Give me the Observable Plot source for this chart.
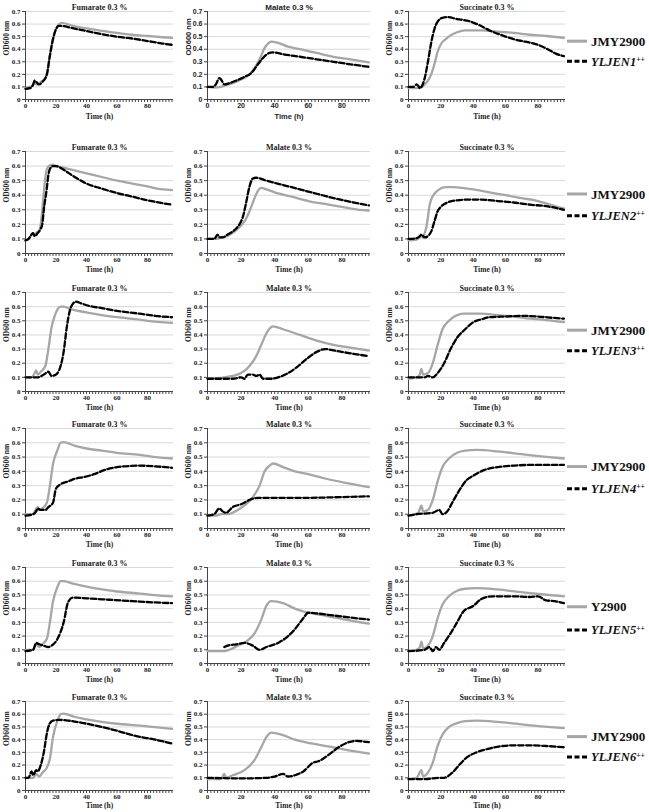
<!DOCTYPE html>
<html><head><meta charset="utf-8">
<script src="https://cdn.jsdelivr.net/npm/d3@7"></script>
<script src="https://cdn.jsdelivr.net/npm/@observablehq/plot@0.6"></script>
<style>
html,body{margin:0;padding:0;background:#fff;}
#fig{position:relative;width:649px;height:812px;overflow:hidden;}
.panel{position:absolute;}
.panel svg{overflow:visible;}
#legend{position:absolute;left:0;top:0;}
</style></head><body><div id="fig"></div>
<script>
// ---- labels ----
const carbonTitles = ["Fumarate 0.3 %", "Malate 0.3 %", "Succinate 0.3 %"];
const wtNames = ["JMY2900", "JMY2900", "JMY2900", "JMY2900", "Y2900", "JMY2900"];
const mutNames = ["YLJEN1", "YLJEN2", "YLJEN3", "YLJEN4", "YLJEN5", "YLJEN6"];
const xTicks = [0, 20, 40, 60, 80];
const yTicks = [0, 0.1, 0.2, 0.3, 0.4, 0.5, 0.6, 0.7];
const minorTicks = d3.range(0, 97, 2);

// ---- data: [time (h), OD600] ----
const wt1Fum = [[0,.09],[3,.1],[5,.11],[6,.14],[7,.12],[8,.12],[10,.14],[13,.17],[14,.2],[16,.35],[18,.48],[20,.56],[22,.6],[24,.61],[30,.59],[40,.565],[50,.545],[60,.53],[70,.515],[80,.505],[90,.495],[96,.49]];
const jen1Fum = [[0,.085],[3,.09],[5,.12],[6,.15],[7,.14],[9,.12],[11,.14],[13,.17],[14,.2],[16,.35],[18,.48],[20,.56],[22,.585],[24,.585],[30,.57],[40,.545],[50,.52],[60,.5],[70,.485],[80,.465],[90,.445],[96,.435]];
const wt1Mal = [[0,.1],[4,.095],[8,.1],[10,.11],[15,.13],[20,.16],[25,.2],[28,.25],[31,.32],[34,.41],[36,.445],[38,.46],[42,.45],[48,.42],[55,.4],[65,.37],[75,.34],[85,.32],[96,.295]];
const jen1Mal = [[0,.1],[3,.1],[5,.12],[7,.17],[8,.16],[10,.12],[13,.13],[17,.15],[22,.18],[26,.21],[30,.28],[33,.33],[36,.365],[39,.375],[45,.36],[55,.34],[65,.32],[75,.3],[85,.28],[96,.26]];
const wt1Suc = [[0,.09],[5,.09],[8,.1],[10,.12],[12,.15],[14,.2],[16,.28],[18,.38],[20,.44],[23,.48],[26,.51],[30,.535],[35,.55],[45,.55],[55,.54],[65,.53],[75,.515],[85,.505],[96,.49]];
const jen1Suc = [[0,.1],[3,.1],[5,.12],[6,.11],[7,.09],[8,.1],[10,.17],[12,.3],[14,.45],[16,.56],[18,.62],[21,.65],[24,.655],[30,.64],[37,.625],[44,.59],[50,.55],[58,.51],[65,.48],[72,.46],[80,.435],[86,.4],[91,.365],[96,.345]];

const wt2Fum = [[0,.09],[2,.1],[4,.13],[5,.14],[6,.12],[7,.14],[9,.16],[10,.2],[11,.3],[12,.42],[13,.52],[14,.58],[16,.605],[18,.61],[20,.6],[25,.59],[30,.575],[40,.55],[50,.525],[60,.5],[70,.48],[80,.46],[90,.44],[96,.435]];
const jen2Fum = [[0,.09],[2,.1],[4,.13],[5,.14],[6,.12],[8,.14],[10,.17],[11,.2],[12,.3],[14,.45],[15,.54],[16,.58],[18,.6],[20,.6],[25,.575],[30,.54],[40,.48],[50,.445],[60,.415],[70,.39],[80,.365],[90,.345],[96,.335]];
const wt2Mal = [[0,.1],[5,.1],[8,.11],[12,.12],[16,.15],[19,.18],[22,.22],[25,.29],[28,.38],[30,.43],[32,.45],[35,.44],[40,.42],[50,.39],[60,.36],[70,.34],[80,.32],[90,.3],[96,.295]];
const jen2Mal = [[0,.1],[4,.1],[6,.13],[7,.11],[9,.11],[12,.13],[16,.16],[19,.2],[21,.25],[23,.35],[25,.46],[27,.515],[29,.52],[35,.5],[45,.47],[55,.44],[65,.41],[75,.38],[85,.355],[96,.33]];
const wt2Suc = [[0,.09],[5,.095],[7,.11],[8,.12],[9,.11],[10,.14],[11,.18],[12,.25],[13,.33],[14,.37],[16,.41],[19,.44],[23,.455],[28,.455],[33,.45],[40,.44],[50,.42],[60,.4],[70,.38],[80,.36],[86,.34],[92,.32],[96,.31]];
const jen2Suc = [[0,.1],[5,.105],[7,.12],[8,.13],[10,.11],[12,.12],[14,.15],[16,.22],[18,.29],[20,.32],[24,.35],[30,.365],[37,.37],[45,.37],[55,.36],[65,.35],[75,.335],[85,.325],[92,.31],[96,.3]];

const wt3Fum = [[0,.1],[4,.1],[6,.13],[7,.15],[8,.12],[10,.14],[13,.18],[15,.3],[17,.45],[19,.53],[21,.58],[23,.6],[25,.6],[30,.58],[40,.56],[50,.54],[65,.52],[80,.5],[96,.485]];
const jen3Fum = [[0,.1],[8,.1],[12,.12],[15,.14],[17,.11],[20,.12],[23,.18],[25,.28],[27,.45],[29,.57],[31,.62],[33,.635],[36,.625],[40,.61],[50,.59],[60,.57],[75,.55],[85,.535],[96,.525]];
const wt3Mal = [[0,.09],[10,.1],[15,.11],[20,.13],[25,.18],[29,.25],[32,.33],[35,.41],[37,.445],[39,.46],[45,.44],[55,.4],[65,.36],[75,.33],[85,.31],[96,.29]];
const jen3Mal = [[0,.09],[15,.09],[20,.1],[22,.09],[24,.12],[27,.12],[29,.11],[31,.12],[33,.09],[35,.09],[38,.09],[42,.1],[48,.13],[54,.18],[60,.24],[65,.28],[70,.3],[75,.29],[85,.27],[96,.25]];
const wt3Suc = [[0,.09],[5,.1],[7,.12],[8,.16],[9,.12],[12,.13],[15,.2],[18,.33],[21,.44],[25,.5],[30,.54],[35,.55],[45,.55],[55,.54],[65,.53],[75,.515],[85,.505],[96,.49]];
const jen3Suc = [[0,.1],[10,.1],[12,.11],[15,.1],[18,.13],[22,.2],[26,.3],[30,.38],[35,.44],[40,.49],[45,.51],[50,.525],[60,.53],[70,.535],[80,.53],[90,.52],[96,.515]];

const wt4Fum = [[0,.1],[5,.1],[6,.12],[8,.15],[9,.13],[11,.14],[14,.18],[16,.3],[18,.45],[21,.55],[23,.6],[25,.605],[32,.58],[40,.56],[50,.545],[60,.53],[75,.515],[85,.5],[96,.49]];
const jen4Fum = [[0,.09],[5,.1],[7,.12],[8,.14],[10,.13],[13,.13],[15,.15],[18,.18],[20,.28],[23,.31],[28,.33],[33,.35],[38,.36],[45,.38],[52,.41],[60,.43],[65,.435],[75,.44],[85,.435],[96,.425]];
const wt4Mal = [[0,.09],[5,.09],[8,.1],[12,.1],[18,.13],[23,.17],[27,.22],[31,.3],[34,.4],[37,.44],[39,.455],[45,.43],[52,.4],[60,.38],[70,.35],[82,.32],[96,.29]];
const jen4Mal = [[0,.09],[4,.1],[7,.14],[9,.12],[11,.11],[15,.15],[20,.17],[25,.2],[30,.215],[40,.215],[60,.215],[80,.22],[96,.225]];
const wt4Suc = [[0,.09],[4,.1],[6,.11],[8,.16],[9,.12],[12,.13],[15,.2],[18,.33],[21,.43],[25,.49],[30,.53],[35,.545],[42,.55],[55,.54],[70,.52],[82,.505],[96,.49]];
const jen4Suc = [[0,.09],[5,.1],[15,.11],[19,.13],[21,.1],[24,.12],[27,.18],[31,.26],[36,.34],[40,.37],[47,.41],[55,.43],[65,.44],[75,.445],[96,.445]];

const wt5Fum = [[0,.1],[5,.1],[7,.14],[9,.12],[11,.14],[14,.18],[16,.3],[18,.45],[21,.56],[23,.6],[25,.6],[32,.58],[40,.56],[50,.54],[60,.525],[75,.51],[88,.495],[96,.49]];
const jen5Fum = [[0,.09],[5,.1],[7,.15],[9,.14],[12,.13],[15,.12],[17,.13],[21,.18],[25,.3],[28,.45],[31,.48],[40,.475],[55,.465],[70,.455],[85,.445],[96,.44]];
const wt5Mal = [[0,.09],[10,.09],[13,.1],[18,.13],[23,.16],[28,.22],[32,.32],[35,.42],[38,.455],[45,.44],[52,.4],[60,.37],[70,.35],[82,.32],[96,.29]];
const jen5Mal = [[10,.12],[12,.13],[17,.14],[22,.15],[27,.13],[31,.1],[35,.12],[42,.15],[48,.2],[52,.25],[57,.33],[60,.37],[65,.365],[75,.35],[85,.335],[96,.32]];
const wt5Suc = [[0,.09],[5,.1],[7,.12],[8,.16],[9,.11],[12,.13],[15,.2],[18,.33],[21,.43],[25,.49],[30,.53],[35,.545],[42,.55],[55,.54],[70,.52],[82,.505],[96,.49]];
const jen5Suc = [[0,.09],[10,.1],[13,.12],[15,.09],[17,.12],[19,.1],[22,.15],[26,.22],[30,.3],[34,.38],[40,.42],[45,.47],[52,.49],[65,.49],[75,.485],[80,.49],[85,.46],[90,.455],[96,.44]];

const wt6Fum = [[0,.1],[5,.1],[7,.13],[9,.11],[11,.14],[14,.18],[16,.25],[18,.42],[21,.55],[23,.6],[25,.605],[32,.58],[40,.56],[50,.54],[60,.525],[75,.51],[88,.495],[96,.485]];
const jen6Fum = [[0,.1],[2,.1],[4,.15],[5,.12],[7,.16],[8,.15],[10,.2],[12,.3],[14,.45],[16,.53],[18,.55],[22,.555],[28,.55],[38,.53],[50,.5],[60,.47],[72,.43],[85,.4],[96,.37]];
const wt6Mal = [[0,.09],[8,.09],[10,.13],[11,.1],[15,.12],[22,.16],[28,.24],[32,.34],[35,.42],[38,.455],[44,.44],[52,.4],[62,.37],[75,.34],[87,.31],[96,.29]];
const jen6Mal = [[0,.1],[20,.095],[35,.1],[40,.11],[45,.13],[48,.11],[52,.12],[57,.15],[63,.22],[66,.23],[72,.28],[78,.34],[84,.38],[88,.39],[96,.38]];
const wt6Suc = [[0,.09],[5,.1],[8,.16],[9,.11],[12,.14],[15,.22],[18,.35],[21,.44],[25,.5],[30,.53],[35,.545],[42,.55],[55,.54],[70,.52],[82,.505],[96,.49]];
const jen6Suc = [[0,.09],[10,.09],[20,.1],[22,.1],[27,.14],[32,.21],[36,.26],[42,.3],[50,.33],[58,.35],[65,.355],[75,.355],[85,.35],[96,.34]];

const curves = [
  [[wt1Fum, jen1Fum], [wt1Mal, jen1Mal], [wt1Suc, jen1Suc]],
  [[wt2Fum, jen2Fum], [wt2Mal, jen2Mal], [wt2Suc, jen2Suc]],
  [[wt3Fum, jen3Fum], [wt3Mal, jen3Mal], [wt3Suc, jen3Suc]],
  [[wt4Fum, jen4Fum], [wt4Mal, jen4Mal], [wt4Suc, jen4Suc]],
  [[wt5Fum, jen5Fum], [wt5Mal, jen5Mal], [wt5Suc, jen5Suc]],
  [[wt6Fum, jen6Fum], [wt6Mal, jen6Mal], [wt6Suc, jen6Suc]]
];

// ---- layout ----
const colAxis = [25, 207, 408];
const colEnd = [173, 370, 565];
const plotTop = [11, 151, 292, 428, 567, 701];
const plotBottom = [99, 253, 391, 528, 663, 790];
const timeY = [118, 271, 409, 546, 681, 807];
const legWtLevel = [0.46, 0.405, 0.43, 0.43, 0.41, 0.42];
const legMutLevel = [0.30, 0.255, 0.285, 0.275, 0.24, 0.26];
const ML = 32, MR = 4;
const GRAY = "#a6a6a6";

const fig = document.getElementById("fig");

for (let r = 0; r < 6; r++) {
  for (let c = 0; c < 3; c++) {
    const [wt, mu] = curves[r][c];
    const svgTop = plotTop[r] - 15;
    const svgBottom = timeY[r] + 5;
    const mt = plotTop[r] - svgTop;
    const mb = svgBottom - plotBottom[r];
    const sans = (r === 0 && c === 1);
    const ff = sans ? "'Liberation Sans', Arial, sans-serif" : "'Liberation Serif', 'Times New Roman', serif";
    const chart = Plot.plot({
      width: colEnd[c] - colAxis[c] + ML + MR,
      height: svgBottom - svgTop,
      marginLeft: ML, marginRight: MR, marginTop: mt, marginBottom: mb,
      x: {domain: [0, 97]},
      y: {domain: [0, 0.7]},
      style: {fontFamily: ff, fontWeight: "bold", color: "#222", background: "transparent"},
      marks: [
        Plot.gridY(yTicks.slice(1), {stroke: "#d9d9d9", strokeOpacity: 1, strokeWidth: 1}),
        Plot.axisY(yTicks, {tickSize: 3, tickPadding: 2, fontSize: 7, label: null, stroke: "#444",
          tickFormat: d => d === 0 ? "0" : d.toFixed(1)}),
        Plot.axisX(minorTicks, {tickSize: 3, tickFormat: () => "", label: null, stroke: "#444"}),
        Plot.axisX(xTicks, {tickSize: 0, tickPadding: 4, fontSize: 7, label: null}),
        Plot.ruleY([0], {stroke: "#444", strokeWidth: 1}),
        Plot.ruleX([0], {stroke: "#444", strokeWidth: 1}),
        Plot.line(wt, {x: d => d[0], y: d => d[1], stroke: GRAY, strokeWidth: 2.3, curve: "monotone-x"}),
        Plot.line(mu, {x: d => d[0], y: d => d[1], stroke: "#000", strokeWidth: 2.3, strokeDasharray: "5.5,2.5", curve: "monotone-x"}),
        Plot.text([carbonTitles[c]], {text: d => d, frameAnchor: "top", dy: -7, fontSize: 8, fontWeight: "bold"}),
        Plot.text(["OD600 nm"], {text: d => d, frameAnchor: "left", dx: -19, rotate: -90, fontSize: 7.5, fontWeight: "bold"}),
        Plot.text(["Time (h)"], {text: d => d, frameAnchor: "bottom", dy: timeY[r] - plotBottom[r], fontSize: 7.5, fontWeight: "bold"})
      ]
    });
    const div = document.createElement("div");
    div.className = "panel";
    div.style.left = (colAxis[c] - ML) + "px";
    div.style.top = svgTop + "px";
    div.appendChild(chart);
    fig.appendChild(div);
  }
}

// ---- legends ----
const leg = d3.select(fig).append("svg").attr("id", "legend").attr("width", 649).attr("height", 812);
for (let r = 0; r < 6; r++) {
  const ys = d3.scaleLinear([0, 0.7], [plotBottom[r], plotTop[r]]);
  const y1 = ys(legWtLevel[r]), y2 = ys(legMutLevel[r]);
  leg.append("line").attr("x1", 567).attr("x2", 587).attr("y1", y1).attr("y2", y1)
    .attr("stroke", GRAY).attr("stroke-width", 3);
  leg.append("text").attr("x", 591).attr("y", y1).attr("dy", "0.35em")
    .attr("font-family", "'Liberation Serif', serif").attr("font-weight", "bold").attr("font-size", 13)
    .attr("fill", "#111").text(wtNames[r]);
  leg.append("line").attr("x1", 567).attr("x2", 587).attr("y1", y2).attr("y2", y2)
    .attr("stroke", "#000").attr("stroke-width", 3).attr("stroke-dasharray", "5,2.5");
  const t = leg.append("text").attr("x", 591).attr("y", y2).attr("dy", "0.35em")
    .attr("font-family", "'Liberation Serif', serif").attr("font-weight", "bold").attr("font-style", "italic")
    .attr("font-size", 12.5).attr("fill", "#111");
  t.append("tspan").text(mutNames[r]);
  t.append("tspan").attr("font-size", 7.5).attr("dy", "-0.5em").text("++");
}
</script>
</body></html>
